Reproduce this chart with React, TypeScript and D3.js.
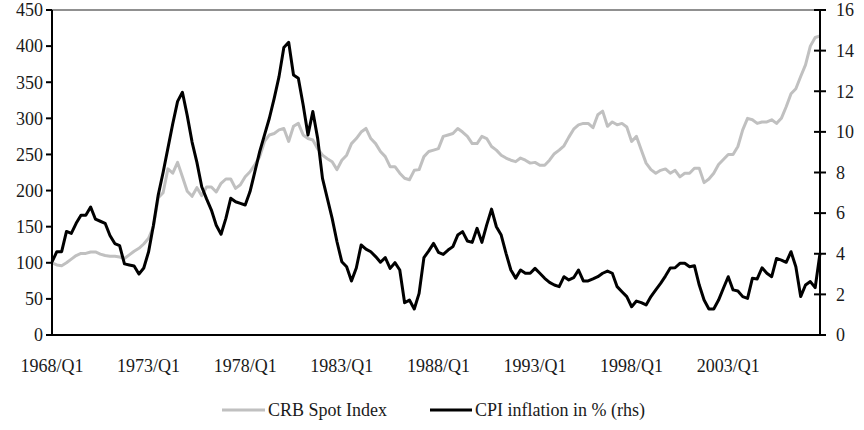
import React from 'react';
import * as d3 from 'd3';

// quarterly observations, 1968/Q1 .. 2007/Q4
const startYear = 1968;
const quarters: string[] = d3.range(160).map(i => `${startYear + Math.floor(i / 4)}/Q${(i % 4) + 1}`);

// CRB Spot Index (lhs)
const crbIndex = [
  100, 97, 96, 100, 105, 110, 113, 113, 115, 115,
  112, 110, 109, 109, 108, 106, 111, 116, 120, 126,
  134, 150, 190, 197, 230, 224, 239, 219, 199, 192,
  204, 193, 205, 205, 198, 210, 216, 216, 203, 208,
  219, 226, 236, 247, 268, 277, 279, 284, 286, 268,
  289, 293, 277, 272, 270, 258, 249, 244, 240, 229,
  242, 249, 265, 272, 281, 286, 272, 265, 254, 247,
  233, 233, 224, 217, 215, 228, 229, 247, 254, 256,
  258, 275, 277, 279, 286, 281, 275, 265, 265, 275,
  272, 261, 256, 249, 245, 242, 240, 245, 242, 238,
  239, 235, 235, 242, 251, 256, 262, 274, 285, 291,
  293, 293, 287, 305, 310, 289, 295, 291, 293, 288,
  268, 275, 256, 238, 229, 224, 228, 230, 224, 228,
  219, 224, 224, 231, 231, 211, 216, 224, 236, 243,
  250, 250, 261, 284, 300, 298, 293, 295, 295, 298,
  293, 300, 316, 334, 341, 358, 374, 400, 412, 414,
];

// CPI inflation in % (rhs)
const cpiInflation = [
  3.6, 4.1, 4.1, 5.1, 5.0, 5.5, 5.9, 5.9, 6.3, 5.7,
  5.6, 5.5, 4.9, 4.5, 4.4, 3.5, 3.45, 3.4, 3.0, 3.3,
  4.1, 5.4, 6.9, 8.0, 9.2, 10.4, 11.5, 11.95, 10.8, 9.5,
  8.5, 7.3, 6.7, 6.15, 5.4, 4.96, 5.74, 6.73, 6.56, 6.48,
  6.4, 7.06, 8.04, 9.03, 9.85, 10.67, 11.65, 12.72, 14.15, 14.41,
  12.8, 12.64, 11.32, 9.85, 11.0, 9.68, 7.71, 6.73, 5.74, 4.59,
  3.61, 3.36, 2.66, 3.3, 4.43, 4.23, 4.1, 3.86, 3.58, 3.81,
  3.28, 3.56, 3.2, 1.59, 1.72, 1.28, 2.05, 3.81, 4.14, 4.51,
  4.07, 3.97, 4.18, 4.35, 4.92, 5.09, 4.63, 4.56, 5.25, 4.56,
  5.42, 6.2, 5.33, 4.92, 4.02, 3.2, 2.8, 3.2, 3.04, 3.04,
  3.28, 3.04, 2.79, 2.59, 2.46, 2.38, 2.87, 2.71, 2.82, 3.2,
  2.66, 2.66, 2.76, 2.87, 3.04, 3.15, 3.04, 2.38, 2.13, 1.89,
  1.39, 1.67, 1.59, 1.48, 1.89, 2.22, 2.54, 2.9, 3.3, 3.31,
  3.53, 3.53, 3.36, 3.41, 2.46, 1.72, 1.28, 1.28, 1.72, 2.3,
  2.87, 2.22, 2.17, 1.89, 1.8, 2.79, 2.76, 3.31, 3.04, 2.87,
  3.77, 3.69, 3.58, 4.1, 3.36, 1.89, 2.46, 2.63, 2.33, 4.02,
];

const xTickLabels = ['1968/Q1', '1973/Q1', '1978/Q1', '1983/Q1', '1988/Q1', '1993/Q1', '1998/Q1', '2003/Q1'];
const leftTicks = [0, 50, 100, 150, 200, 250, 300, 350, 400, 450];
const rightTicks = [0, 2, 4, 6, 8, 10, 12, 14, 16];

const W = 864;
const H = 430;
const plot = { left: 52, right: 820, top: 10, bottom: 335 };
const font = "'Liberation Serif', 'Times New Roman', serif";

export default function App() {
  const x = d3.scalePoint<string>().domain(quarters).range([plot.left, plot.right]);
  const yL = d3.scaleLinear().domain([0, 450]).range([plot.bottom, plot.top]);
  const yR = d3.scaleLinear().domain([0, 16]).range([plot.bottom, plot.top]);

  const crbLine = d3.line<number>().x((_, i) => x(quarters[i])!).y(d => yL(d));
  const cpiLine = d3.line<number>().x((_, i) => x(quarters[i])!).y(d => yR(d));

  return (
    <svg width={W} height={H} style={{ position: 'absolute', left: 0, top: 0, background: '#fff' }}
      fontFamily={font} fontSize={18} fill="#1a1a1a">
      {/* top frame */}
      <line x1={plot.left} x2={plot.right} y1={plot.top} y2={plot.top} stroke="#222" strokeWidth={1.2} />

      <path d={crbLine(crbIndex) ?? ''} fill="none" stroke="#c0c0c0" strokeWidth={3} strokeLinejoin="round" />
      <path d={cpiLine(cpiInflation) ?? ''} fill="none" stroke="#000" strokeWidth={3} strokeLinejoin="round" />

      {/* axes */}
      <line x1={plot.left} x2={plot.left} y1={plot.top} y2={plot.bottom} stroke="#000" strokeWidth={2} />
      <line x1={plot.right} x2={plot.right} y1={plot.top} y2={plot.bottom} stroke="#000" strokeWidth={2} />
      <line x1={plot.left} x2={plot.right} y1={plot.bottom} y2={plot.bottom} stroke="#000" strokeWidth={2} />

      {leftTicks.map(t => (
        <g key={`l${t}`}>
          <line x1={plot.left - 6} x2={plot.left} y1={yL(t)} y2={yL(t)} stroke="#000" strokeWidth={2} />
          <text x={43} y={yL(t)} dy="0.35em" textAnchor="end">{t}</text>
        </g>
      ))}

      {rightTicks.map(t => (
        <g key={`r${t}`}>
          <line x1={plot.right - 6} x2={plot.right + 6} y1={yR(t)} y2={yR(t)} stroke="#000" strokeWidth={2} />
          <text x={836} y={yR(t)} dy="0.35em">{t}</text>
        </g>
      ))}

      {xTickLabels.map(lbl => (
        <text key={lbl} x={x(lbl)} y={372} textAnchor="middle">{lbl}</text>
      ))}

      {/* legend */}
      <line x1={222} x2={265} y1={410} y2={410} stroke="#c0c0c0" strokeWidth={3} />
      <text x={268} y={416}>CRB Spot Index</text>
      <line x1={430} x2={472} y1={410} y2={410} stroke="#000" strokeWidth={3} />
      <text x={475} y={416}>CPI inflation in % (rhs)</text>
    </svg>
  );
}
